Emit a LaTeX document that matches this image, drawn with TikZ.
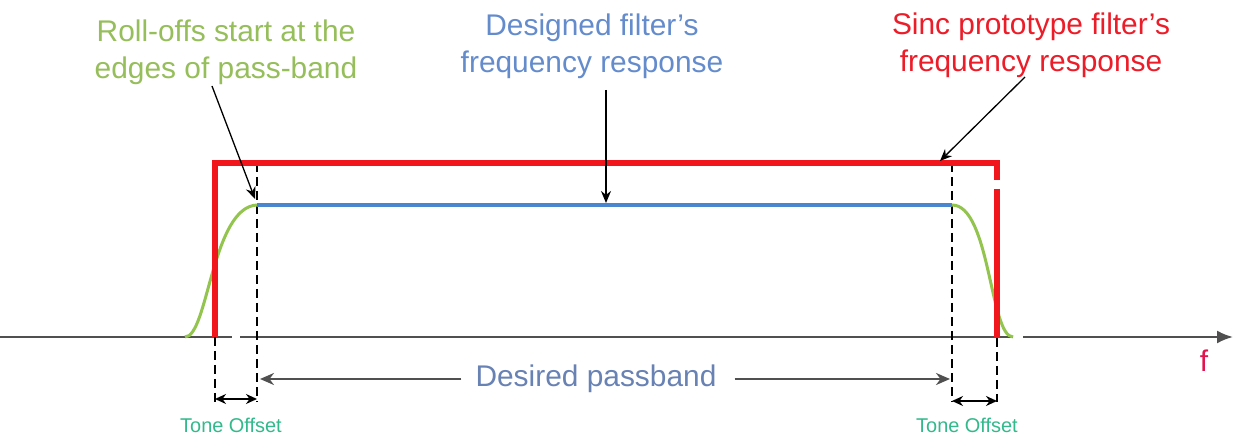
\documentclass[tikz,border=0pt]{standalone}
\usepackage{fontspec}
\setmainfont{Liberation Sans}
\usetikzlibrary{arrows.meta}
\definecolor{redc}{RGB}{240,22,28}
\definecolor{bluec}{RGB}{74,134,207}
\definecolor{greenc}{RGB}{146,196,78}
\definecolor{greent}{RGB}{150,190,90}
\definecolor{bluet}{RGB}{100,140,205}
\definecolor{redt}{RGB}{236,28,40}
\definecolor{tonec}{RGB}{50,185,140}
\definecolor{axisc}{RGB}{80,80,80}
\definecolor{ftext}{RGB}{225,20,80}
\definecolor{dpt}{RGB}{105,130,180}
\begin{document}
\begin{tikzpicture}[x=1bp,y=-1bp,
  lbl/.style={inner sep=0pt, align=center, font=\fontsize{30}{37}\selectfont},
  callout/.style={draw=black, line width=1.3bp, -{Stealth[length=12bp,width=10bp]}},
  guide/.style={draw=black, line width=1.4bp, dash pattern=on 9bp off 5bp},
  span/.style={draw=black, line width=1.8bp, {Stealth[length=11bp,width=10bp]}-{Stealth[length=11bp,width=10bp]}},
  pband/.style={draw=axisc, line width=2.2bp, -{Stealth[length=14bp,width=12bp]}},
  tone/.style={inner sep=0pt, text=tonec, font=\fontsize{20}{22}\selectfont},
  redline/.style={draw=redc, line width=5.5bp},
]
\useasboundingbox[fill=white] (0,0) rectangle (1233,438);

% key coordinates
\coordinate (A0) at (0,337);
\coordinate (Ag1) at (232,337);
\coordinate (Ag2) at (240,337);
\coordinate (Ag3) at (1013,337);
\coordinate (Ag4) at (1023,337);
\coordinate (Aend) at (1233,337);

\coordinate (RL0) at (215,337);
\coordinate (RLt) at (215,163);
\coordinate (RRt) at (997,163);
\coordinate (RRa) at (997,180);
\coordinate (RRb) at (997,189);
\coordinate (RR0) at (997,338);

\coordinate (BL) at (257,205);
\coordinate (BR) at (952,205);
\coordinate (GL0) at (185,337);
\coordinate (GR0) at (1013,337);

% axis
\draw[draw=axisc, line width=2.2bp] (A0) -- (Ag1);
\draw[draw=axisc, line width=2.2bp] (Ag2) -- (Ag3);
\draw[draw=axisc, line width=2.2bp, -{Latex[length=16bp,width=13bp]}] (Ag4) -- (Aend);

% dashed guides
\draw[guide] (215,337) -- (215,402);
\draw[guide] (257,163) -- (257,402);
\draw[guide] (952,163) -- (952,402);
\draw[guide] (997,338) -- (997,402);

% green roll-offs
\draw[draw=greenc, line width=3bp] (GL0) .. controls (208,337) and (212,207) .. (BL);
\draw[draw=greenc, line width=3bp] (BR) .. controls (990,205) and (990,337) .. (GR0);

% blue designed response
\draw[draw=bluec, line width=3.2bp] (BL) -- (BR);

% red sinc prototype
\draw[redline, line join=miter] (RL0) -- (RLt) -- (RRt) -- (RRa);
\draw[redline] (RRb) -- (RR0);

% labels
\node[lbl, text=greent, anchor=north] (roll) at (226,20) {Roll-offs start at the\\edges of pass-band};
\node[lbl, text=bluet, anchor=north] (desg) at (592,14) {Designed filter's\\frequency response};
\node[lbl, text=redt, anchor=north] (sinc) at (1031,13) {Sinc prototype filter's\\frequency response};

\coordinate (rollS) at (212,86);
\coordinate (rollE) at (255,199);
\coordinate (desgS) at (606,90);
\coordinate (desgE) at (606,203);
\coordinate (sincS) at (1025,77);
\coordinate (sincE) at (940,161);
\draw[callout] (rollS) -- (rollE);
\draw[callout] (desgS) -- (desgE);
\draw[callout] (sincS) -- (sincE);

% desired passband
\node[inner sep=0pt, text=dpt, font=\fontsize{30}{34}\selectfont, anchor=base] (dp) at (596,387) {Desired passband};
\coordinate (dpL) at (260,379);
\coordinate (dpR) at (950,379);
\draw[pband] ([xshift=-14bp]dp.west |- dpL) -- (dpL);
\draw[pband] ([xshift=18bp]dp.east |- dpR) -- (dpR);

% tone offsets
\draw[span] (215,399) -- (257,399);
\draw[span] (952,401) -- (997,401);
\node[tone, anchor=base] (to1) at (231,433) {Tone Offset};
\node[tone, anchor=base] (to2) at (967,433) {Tone Offset};

% f
\node[inner sep=0pt, text=ftext, font=\fontsize{30}{34}\selectfont, anchor=base] (f) at (1204,372) {f};
\end{tikzpicture}
\end{document}
